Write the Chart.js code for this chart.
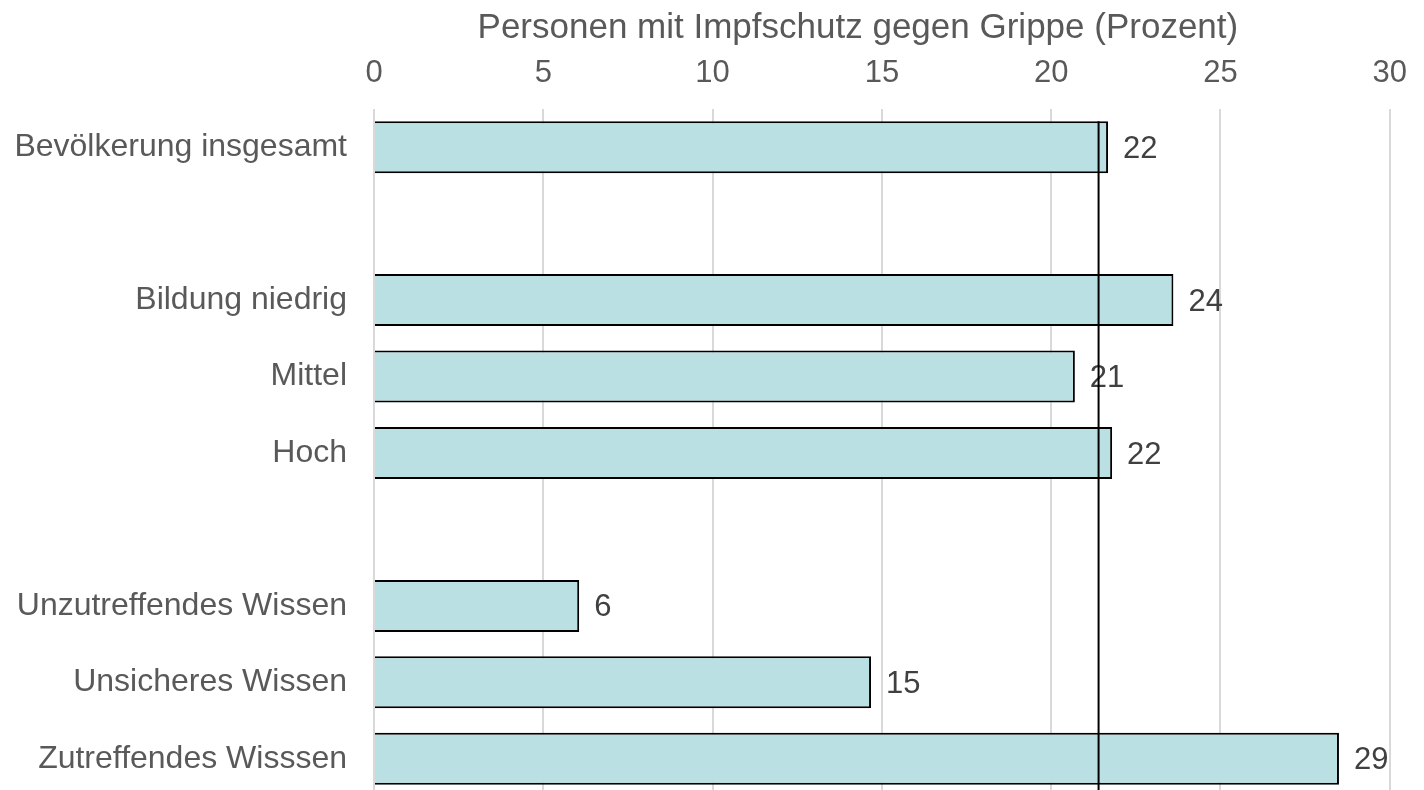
<!DOCTYPE html>
<html>
<head>
<meta charset="utf-8">
<script src="https://cdn.jsdelivr.net/npm/chart.js@4"></script>
<style>
    html, body { margin: 0; padding: 0; background: #fff; overflow: hidden; }
    canvas { display: block; }
</style>
</head>
<body>
<canvas id="impfChart" width="1424" height="797"></canvas>
<script>
// categories (empty strings are the gaps between groups)
const categories = [
    'Bevölkerung insgesamt', '',
    'Bildung niedrig', 'Mittel', 'Hoch', '',
    'Unzutreffendes Wissen', 'Unsicheres Wissen', 'Zutreffendes Wisssen'
];
const impfValues = [21.68, null, 23.61, 20.7, 21.8, null, 6.06, 14.68, 28.5];
const referenceValue = 21.4;
const xTicks = [0, 5, 10, 15, 20, 25, 30];
const axisTitle = 'Personen mit Impfschutz gegen Grippe (Prozent)';

const textGray = '#595959';
const fontFamily = '"Liberation Sans", Arial, sans-serif';

// value labels right of each bar
const valueLabels = {
    id: 'valueLabels',
    afterDatasetsDraw(chart) {
        const ctx = chart.ctx;
        const meta = chart.getDatasetMeta(0);
        ctx.save();
        ctx.font = '31px ' + fontFamily;
        ctx.fillStyle = '#404040';
        ctx.textAlign = 'left';
        ctx.textBaseline = 'middle';
        meta.data.forEach((bar, i) => {
            const v = impfValues[i];
            if (v === null) return;
            ctx.fillText(String(Math.round(v)), bar.x + 15, bar.y + 2);
        });
        ctx.restore();
    }
};

// axis title, sits a little left of the plot centre like the original
const topTitle = {
    id: 'topTitle',
    afterDraw(chart) {
        const ctx = chart.ctx;
        const area = chart.chartArea;
        ctx.save();
        ctx.font = '35px ' + fontFamily;
        ctx.fillStyle = textGray;
        ctx.textAlign = 'center';
        ctx.textBaseline = 'alphabetic';
        ctx.fillText(axisTitle, (area.left + area.right) / 2 - 24, 38);
        ctx.restore();
    }
};

// black vertical reference line
const refLine = {
    id: 'refLine',
    afterDraw(chart) {
        const ctx = chart.ctx;
        const x = chart.scales.x.getPixelForValue(referenceValue);
        const first = chart.getDatasetMeta(0).data[0];
        ctx.save();
        ctx.strokeStyle = '#000';
        ctx.lineWidth = 2;
        ctx.beginPath();
        ctx.moveTo(x, first.y - first.height / 2);
        ctx.lineTo(x, chart.chartArea.bottom);
        ctx.stroke();
        ctx.restore();
    }
};

const ctx = document.getElementById('impfChart').getContext('2d');
new Chart(ctx, {
    type: 'bar',
    data: {
        labels: categories,
        datasets: [{
            data: impfValues,
            backgroundColor: '#bae0e3',
            borderColor: '#000',
            borderWidth: 2,
            barPercentage: 0.68,
            categoryPercentage: 1
        }]
    },
    options: {
        indexAxis: 'y',
        responsive: false,
        animation: false,
        layout: { padding: { left: 0, right: 31, top: 0, bottom: 0 } },
        plugins: { legend: { display: false }, tooltip: { enabled: false } },
        scales: {
            x: {
                position: 'top',
                min: 0,
                max: 30,
                afterBuildTicks: axis => { axis.ticks = xTicks.map(v => ({ value: v })); },
                afterFit: axis => { axis.height = 109; },
                ticks: { color: textGray, font: { size: 31, family: fontFamily }, padding: 17 },
                grid: { color: '#d9d9d9', lineWidth: 2, drawTicks: false },
                border: { display: false }
            },
            y: {
                afterFit: axis => {
                    axis.width = 374;
                    axis.paddingTop = 0;
                    axis.paddingBottom = 0;
                },
                ticks: { color: textGray, font: { size: 32, family: fontFamily }, padding: 27 },
                grid: { display: false, drawTicks: false },
                border: { display: false }
            }
        }
    },
    plugins: [valueLabels, topTitle, refLine]
});
</script>
</body>
</html>
